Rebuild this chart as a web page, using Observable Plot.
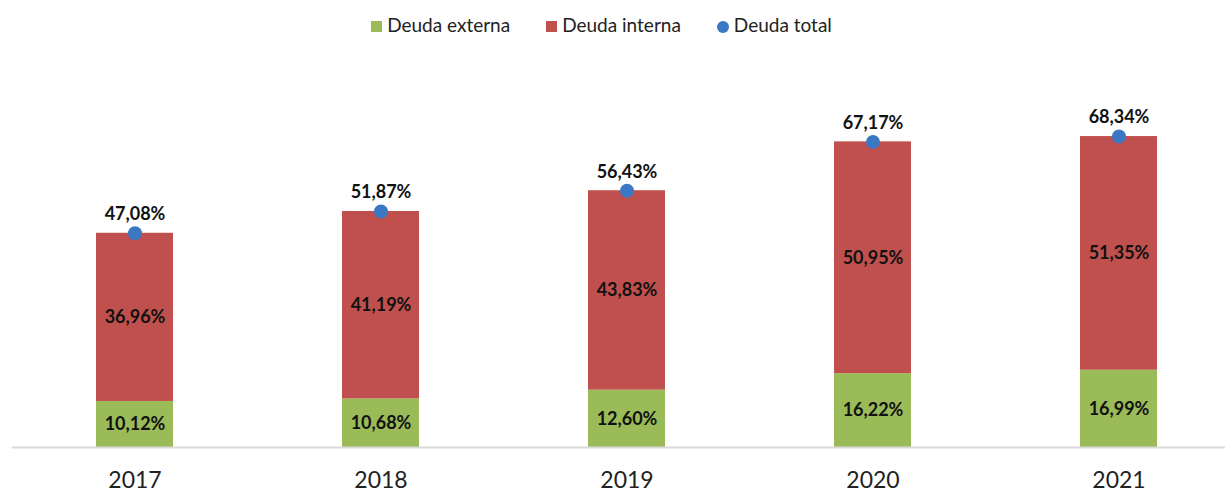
<!DOCTYPE html>
<html>
<head>
<meta charset="utf-8">
<script src="https://cdn.jsdelivr.net/npm/d3@7"></script>
<script src="https://cdn.jsdelivr.net/npm/@observablehq/plot@0.6"></script>
<style>
  html, body { margin: 0; padding: 0; background: #fff; }
  body { width: 1225px; height: 493px; overflow: hidden; font-family: Lato, "Open Sans", sans-serif; }
  #legend { height: 48px; display: flex; justify-content: center; align-items: center; gap: 36px; font-size: 19px; color: #222; padding-right: 22px; box-sizing: border-box; }
  #legend .item { display: flex; align-items: center; gap: 5px; }
  #legend .sw { width: 11px; height: 11px; display: inline-block; margin-top: 5px; }
  #legend .dot { border-radius: 50%; width: 12px; height: 12px; }
</style>
</head>
<body>
<div id="legend"></div>
<div id="chart"></div>
<script>
const years = ["2017", "2018", "2019", "2020", "2021"];
const externa = [10.12, 10.68, 12.60, 16.22, 16.99];
const interna = [36.96, 41.19, 43.83, 50.95, 51.35];
const total = [47.08, 51.87, 56.43, 67.17, 68.34];
const series = ["Deuda externa", "Deuda interna"];
const colors = ["#9BBB59", "#C0504D"];
const dotColor = "#3A78C3";

const fmt = v => v.toFixed(2).replace(".", ",") + "%";

const rows = [];
years.forEach((y, i) => {
  rows.push({year: y, serie: series[0], value: externa[i]});
  rows.push({year: y, serie: series[1], value: interna[i]});
});
const totals = years.map((y, i) => ({year: y, value: total[i]}));

// legend
const legend = document.getElementById("legend");
series.forEach((s, i) => {
  const it = document.createElement("div"); it.className = "item";
  it.innerHTML = `<span class="sw" style="background:${colors[i]}"></span><span>${s}</span>`;
  legend.appendChild(it);
});
{
  const it = document.createElement("div"); it.className = "item";
  it.innerHTML = `<span class="sw dot" style="background:${dotColor}"></span><span>Deuda total</span>`;
  legend.appendChild(it);
}

const chart = Plot.plot({
  width: 1225,
  height: 445,
  marginLeft: 12,
  marginRight: 0,
  marginTop: 35,
  marginBottom: 46,
  style: {fontFamily: "Lato, 'Open Sans', sans-serif", background: "white", overflow: "visible"},
  x: {domain: years, range: [11.5, 1241.5], paddingInner: 0.687, paddingOuter: 0.3435, label: null},
  y: {domain: [0, 80], axis: null},
  color: {domain: series, range: colors},
  marks: [
    Plot.barY(rows, {x: "year", y: "value", fill: "serie"}),
    Plot.ruleY([0], {stroke: "#d9d9d9", strokeWidth: 2}),
    Plot.text(rows, Plot.stackY({x: "year", y: "value", z: "serie", text: d => fmt(d.value), fontSize: 18, fontWeight: "bold", fill: "#111"})),
    Plot.dot(totals, {x: "year", y: "value", r: 7, fill: dotColor}),
    Plot.text(totals, {x: "year", y: "value", text: d => fmt(d.value), dy: -19, fontSize: 18, fontWeight: "bold", fill: "#111"}),
    Plot.axisX({tickSize: 0, tickPadding: 24, fontSize: 23, fill: "#222", label: null})
  ]
});
document.getElementById("chart").appendChild(chart);
</script>
</body>
</html>
